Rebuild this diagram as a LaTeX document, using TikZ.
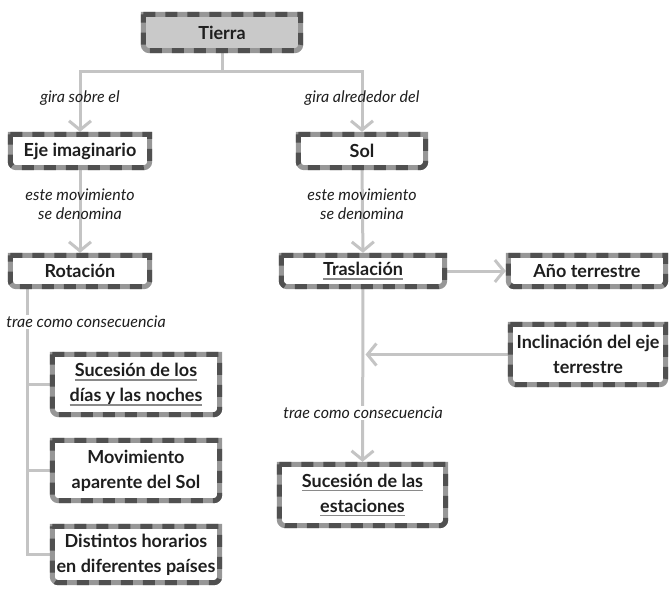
\documentclass[tikz,border=0pt]{standalone}
\usepackage{fontspec}
\setmainfont{Lato}
\usetikzlibrary{arrows.meta}
\pgfdeclarelayer{back}
\pgfsetlayers{back,main}
\definecolor{bdark}{HTML}{505050}
\definecolor{blight}{HTML}{979797}
\definecolor{conn}{HTML}{C4C4C4}
\definecolor{ink}{HTML}{1E1E1E}
\definecolor{ulgray}{HTML}{8A8A8A}
\definecolor{rootfill}{HTML}{C9C9C9}
% grey underline under a piece of text
\newcommand\gul[1]{\setbox0\hbox{#1}\rlap{\textcolor{ulgray}{\rule[-4pt]{\wd0}{1.3pt}}}\box0}
\begin{document}
\begin{tikzpicture}[x=1pt,y=1pt,
  concept/.style={font=\bfseries\fontsize{18}{25}\selectfont, text=ink, align=center, inner sep=0pt},
  note/.style={font=\itshape\fontsize{16}{19}\selectfont, text=ink, align=center, inner sep=1pt},
  link/.style={draw=conn, line width=3pt},
  arr/.style={link, shorten >=2.5pt, -{Straight Barb[length=9pt,width=22pt,line width=3pt]}},
  frame/.style={line width=5pt},
]
\useasboundingbox (0,0) rectangle (672,-589);

% concept boxes
\node[concept, minimum width=157, minimum height=36] (tierra) at (222,-32.5) {Tierra};
\node[concept, minimum width=139, minimum height=33] (eje) at (80,-151) {Eje imaginario};
\node[concept, minimum width=127, minimum height=33] (sol) at (362,-151) {Sol};
\node[concept, minimum width=139, minimum height=31] (rot) at (80,-271) {Rotación};
\node[concept, minimum width=163, minimum height=31] (tras) at (363,-271) {\gul{Traslación}};
\node[concept, minimum width=157, minimum height=31] (ano) at (587,-271) {Año terrestre};
\node[concept, minimum width=155, minimum height=60] (incl) at (588,-354.5) {Inclinación del eje\\terrestre};
\node[concept, minimum width=166, minimum height=61] (est) at (362.5,-495) {\gul{Sucesión de las}\\\gul{estaciones}};
\node[concept, minimum width=167, minimum height=60] (d1) at (136,-384.5) {\gul{Sucesión de los}\\\gul{días y las noches}};
\node[concept, minimum width=167, minimum height=60] (d2) at (136,-470.5) {Movimiento\\aparente del Sol};
\node[concept, minimum width=167, minimum height=56] (d3) at (136,-554.5) {Distintos horarios\\en diferentes países};

\begin{pgfonlayer}{back}
  % connectors
  \coordinate (fork) at (222,-71);
  \coordinate (lx) at (27,0);
  \draw[arr] (tierra.south) -- (tierra.south |- fork) -| (eje.north);
  \draw[arr] (tierra.south) -- (tierra.south |- fork) -| (sol.north);
  \draw[arr] (eje.south) -- (rot.north);
  \draw[arr] (sol.south) -- (tras.north);
  \draw[arr] (tras.east) -- (ano.west);
  \draw[arr] (incl.west) -- (tras.south |- incl.west);
  \draw[arr] (tras.south) -- (est.north);
  \draw[link] (rot.south -| lx) -- (d3.west -| lx) -- (d3.west);
  \draw[link] (d1.west -| lx) -- (d1.west);
  \draw[link] (d2.west -| lx) -- (d2.west);
  % shaded root box
  \fill[rootfill] (tierra.north west) -- (tierra.north east) -- ([yshift=6pt]tierra.south east)
    arc[start angle=0,end angle=-90,radius=6pt] -- ([xshift=6pt]tierra.south west)
    arc[start angle=270,end angle=180,radius=6pt] -- cycle;
\end{pgfonlayer}

% box frames: square top corners, rounded bottom corners, two-tone dashes
\foreach \n in {tierra,eje,sol,rot,tras,ano,incl,est,d1,d2,d3}{
  \draw[frame, blight] (\n.north west) -- (\n.north east) -- ([yshift=6pt]\n.south east)
    arc[start angle=0,end angle=-90,radius=6pt] -- ([xshift=6pt]\n.south west)
    arc[start angle=270,end angle=180,radius=6pt] -- cycle;
  \draw[frame, bdark, dash pattern=on 12pt off 10pt] (\n.north west) -- (\n.north east) -- ([yshift=6pt]\n.south east)
    arc[start angle=0,end angle=-90,radius=6pt] -- ([xshift=6pt]\n.south west)
    arc[start angle=270,end angle=180,radius=6pt] -- cycle;
}

% connector labels
\node[note] (l1) at (80,-98) {gira sobre el};
\node[note] (l2) at (362,-98) {gira alrededor del};
\node[note] (l3) at (80,-204) {este movimiento\\se denomina};
\node[note] (l4) at (362,-204) {este movimiento\\se denomina};
\node[note, fill=white] (l5) at (86,-322) {trae como consecuencia};
\node[note, fill=white] (l6) at (363,-413) {trae como consecuencia};
\end{tikzpicture}
\end{document}
